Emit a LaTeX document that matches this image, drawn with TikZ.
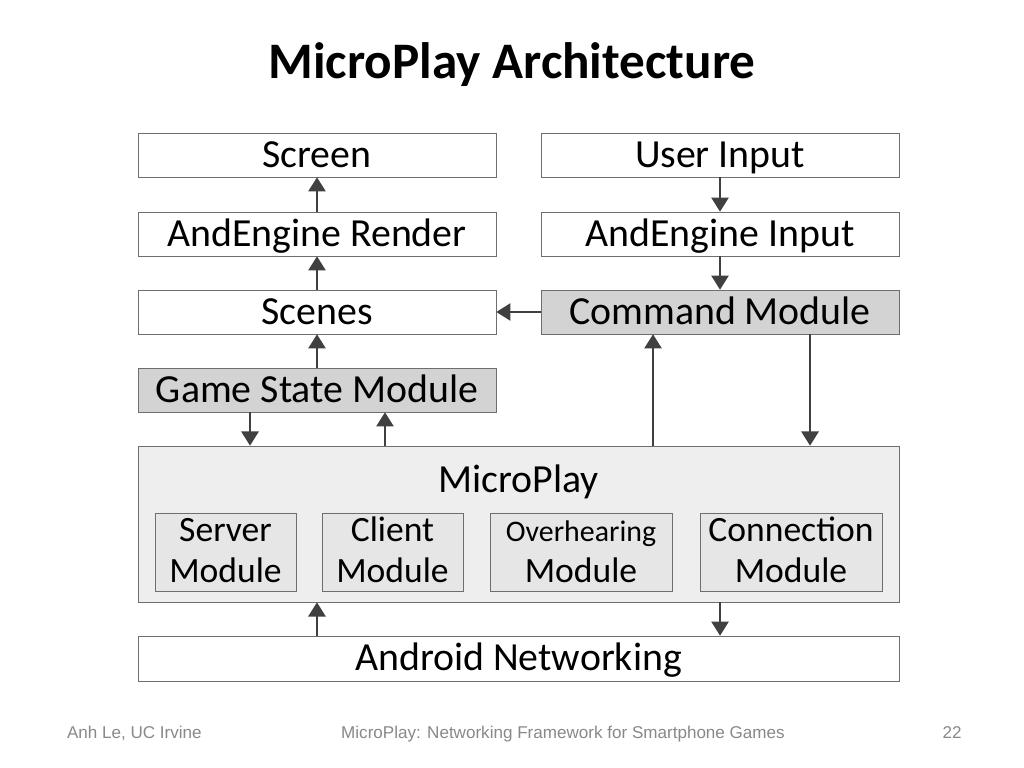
\documentclass[tikz,border=0pt]{standalone}
\usepackage{fontspec}
\setmainfont{Carlito}
\newfontfamily\footfont{Liberation Sans}
\usetikzlibrary{arrows.meta}
\definecolor{boxline}{HTML}{6E6E6E}
\definecolor{arrowgray}{HTML}{404040}
\definecolor{modfill}{HTML}{D3D3D3}
\definecolor{mpfill}{HTML}{EEEEEE}
\definecolor{subfill}{HTML}{E6E6E6}
\definecolor{footgray}{HTML}{898989}
\tikzset{
  label28/.style={font=\fontsize{28}{32}\selectfont, text height=23pt, text depth=5.6pt},
  layer/.style={draw=boxline, fill=white, minimum width=251.7pt, minimum height=30.9pt,
    inner sep=0pt, label28},
  module/.style={layer, fill=modfill},
  wide/.style={layer, minimum width=535.1pt},
  sub/.style={draw=boxline, fill=subfill, minimum height=54.8pt, inner sep=0pt,
    align=center, font=\fontsize{25}{29}\selectfont, text height=49pt, text depth=5.6pt},
  arr/.style={draw=arrowgray, line width=1.8pt, -{Triangle[width=12pt,length=10pt]}},
  foot/.style={font=\footfont\fontsize{12}{14}\selectfont, text=footgray, anchor=base}
}
\begin{document}
\begin{tikzpicture}[x=0.703125pt, y=-0.703125pt]
  \useasboundingbox[fill=white] (0,0) rectangle (1024,768);
  % title
  \node[font=\bfseries\fontsize{36}{40}\selectfont] (title) at (512,65) {MicroPlay Architecture};
  % left column
  \node[layer] (screen) at (317,155) {Screen};
  \node[layer] (render) at (317,234) {AndEngine Render};
  \node[layer] (scenes) at (317,312) {Scenes};
  \node[module] (gs) at (317,390) {Game State Module};
  % right column
  \node[layer] (uin) at (720,155) {User Input};
  \node[layer] (ain) at (720,234) {AndEngine Input};
  \node[module] (cmd) at (720,312) {Command Module};
  % framework
  \node[wide, fill=mpfill, minimum height=109.7pt] (mp) at (518.5,524) {};
  \node[label28] (mplabel) at (518.5,480) {MicroPlay};
  \node[sub, minimum width=99.1pt] (server) at (225.5,552) {Server\\Module};
  \node[sub, minimum width=99.1pt] (client) at (392.5,552) {Client\\Module};
  \node[sub, minimum width=128pt] (over) at (581,552) {{\fontsize{21}{22}\selectfont Overhearing}\\Module};
  \node[sub, minimum width=128pt] (conn) at (791,552) {Connection\\Module};
  \node[wide, minimum height=31.6pt] (android) at (518.5,658.5) {Android Networking};
  % arrows
  \draw[arr] (render) -- (screen);
  \draw[arr] (scenes) -- (render);
  \draw[arr] (gs) -- (scenes);
  \draw[arr] (uin) -- (ain);
  \draw[arr] (ain) -- (cmd);
  \draw[arr] (cmd) -- (scenes);
  \draw[arr] ([xshift=-47.1pt]gs.south) -- ([xshift=-47.1pt]gs.south |- mp.north);
  \draw[arr] ([xshift=47.8pt]gs.south |- mp.north) -- ([xshift=47.8pt]gs.south);
  \draw[arr] ([xshift=-47.1pt]cmd.south |- mp.north) -- ([xshift=-47.1pt]cmd.south);
  \draw[arr] ([xshift=63.3pt]cmd.south) -- ([xshift=63.3pt]cmd.south |- mp.north);
  \draw[arr] ([xshift=-141.7pt]android.north) -- ([xshift=-141.7pt]android.north |- mp.south);
  \draw[arr] ([xshift=141.7pt]android.north |- mp.south) -- ([xshift=141.7pt]android.north);
  % footer
  \node[foot, anchor=base west] (author) at (62,738) {Anh Le, UC Irvine};
  \node[foot] (talk) at (563,738) {MicroPlay: Networking Framework for Smartphone Games};
  \node[foot] (page) at (952,738) {22};
\end{tikzpicture}
\end{document}
